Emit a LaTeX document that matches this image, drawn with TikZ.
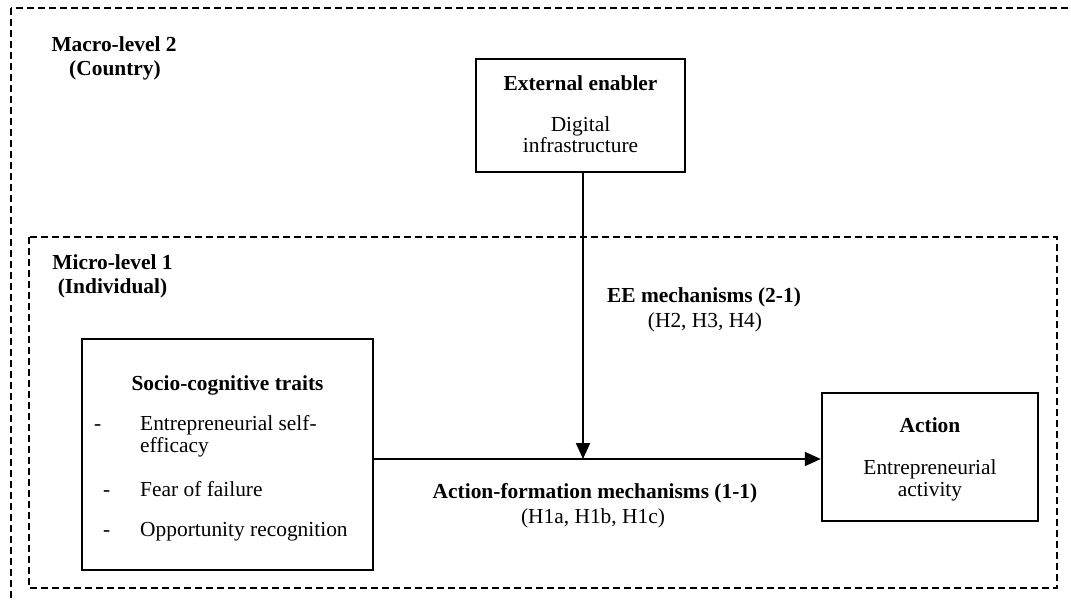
\documentclass[tikz,border=0pt]{standalone}
\usepackage{fontspec}
\setmainfont{Liberation Serif}
\usetikzlibrary{arrows.meta}
\begin{document}
\begin{tikzpicture}[x=1pt,y=-1pt,
  level/.style={draw, line width=2.4pt, dash pattern=on 7pt off 4pt},
  box/.style={draw, line width=2.4pt, inner sep=0pt},
  txt/.style={inner sep=0pt, anchor=base, font=\fontsize{21.4}{24}\selectfont},
  btxt/.style={inner sep=0pt, anchor=base, font=\fontsize{21.4}{24}\selectfont\bfseries},
  ltxt/.style={inner sep=0pt, anchor=base west, font=\fontsize{21.4}{24}\selectfont},
  link/.style={line width=1.8pt, -{Triangle[length=16pt,width=14pt]}}]
\clip (0,0) rectangle (1071,601);
\fill[white] (0,0) rectangle (1071,601);
% levels
\draw[level] (11,8) rectangle (1100,630);
\draw[level] (29,237) rectangle (1057,588);
\node[btxt] (macro1) at (114,52) {Macro-level 2};
\node[btxt] (macro2) at (115,76) {(Country)};
\node[btxt] (micro1) at (112.5,270) {Micro-level 1};
\node[btxt] (micro2) at (112.5,294) {(Individual)};
% boxes
\node[box, minimum width=209pt, minimum height=113pt] (ext) at (580.5,115.5) {};
\node[btxt] (extt) at (580.5,91) {External enabler};
\node[txt] (ext1) at (580.5,132) {Digital};
\node[txt] (ext2) at (580.5,153) {infrastructure};
\node[box, minimum width=291pt, minimum height=231pt] (soc) at (227.5,454.5) {};
\node[btxt] (soct) at (227.5,391) {Socio-cognitive traits};
\node[ltxt] (d1) at (94,431) {-};
\node[ltxt] (s1) at (140,431) {Entrepreneurial self-};
\node[ltxt] (s1b) at (140,453) {efficacy};
\node[ltxt] (d2) at (103,496) {-};
\node[ltxt] (s2) at (140,496) {Fear of failure};
\node[ltxt] (d3) at (103,536) {-};
\node[ltxt] (s3) at (140,536) {Opportunity recognition};
\node[box, minimum width=216pt, minimum height=128pt] (act) at (930,457) {};
\node[btxt] (actt) at (930,432) {Action};
\node[txt] (act1) at (930,474) {Entrepreneurial};
\node[txt] (act2) at (930,496) {activity};
% labels
\node[btxt] (afm) at (595,498) {Action-formation mechanisms (1-1)};
\node[txt] (afh) at (593,523) {(H1a, H1b, H1c)};
\node[btxt] (eem) at (704,303) {EE mechanisms (2-1)};
\node[txt] (eeh) at (705,328) {(H2, H3, H4)};
% connectors
\coordinate (m) at (583,459);
\draw[link] (soc.east |- m) -- (act.west |- m);
\draw[link] (ext.south -| m) -- (m);
\end{tikzpicture}
\end{document}
